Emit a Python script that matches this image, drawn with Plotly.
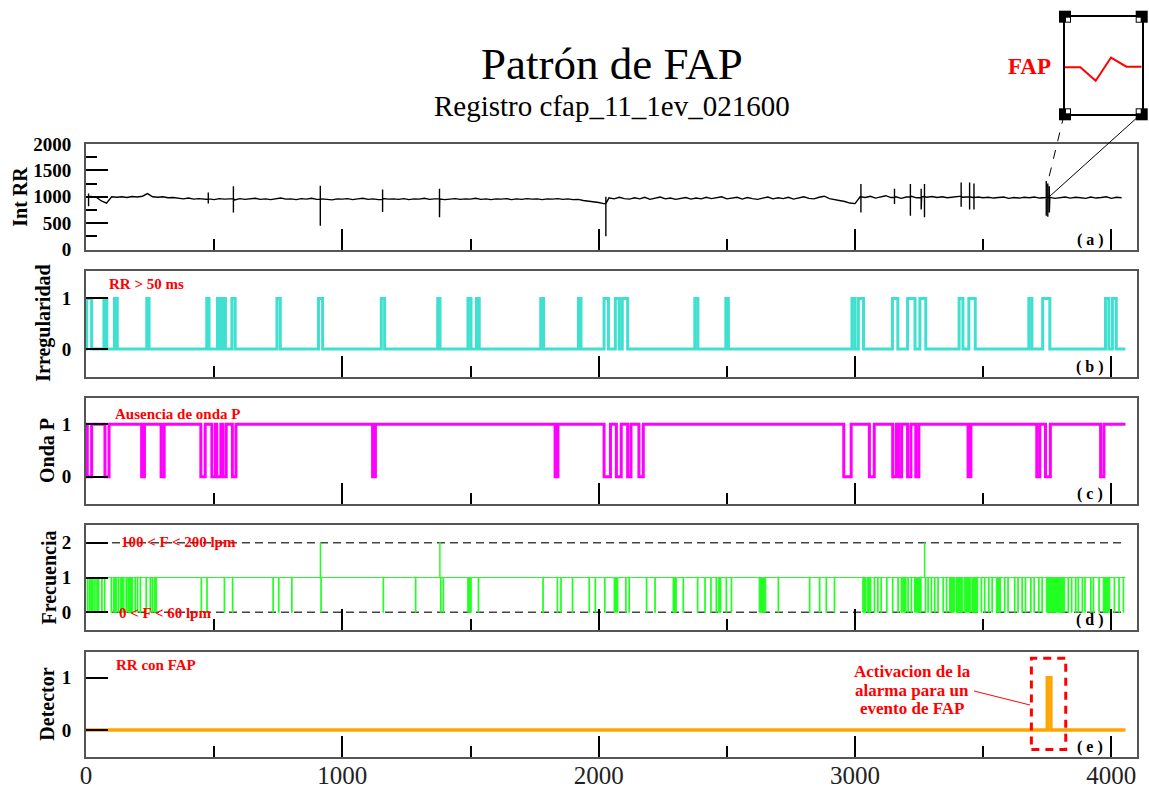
import plotly.graph_objects as go

W, H = 1149, 790
X0, X1 = 86, 1137          # plot area left/right in px
SERIF = "Liberation Serif"

# ---------------- data ----------------
n_beats = 4055
rr_step = 20
rr_base = [1000, 1005, 990, 920, 880, 1000, 990, 1000, 985, 1005,
           995, 1010, 1060, 1000, 990, 1000, 980, 985, 970, 960,
           975, 955, 965, 950, 960, 945, 965, 955, 960, 940,
           965, 950, 960, 970, 950, 960, 945, 965, 975, 955,
           960, 945, 965, 955, 970, 950, 960, 950, 940, 960,
           955, 965, 945, 960, 970, 950, 960, 945, 965, 955,
           960, 950, 965, 945, 960, 955, 970, 950, 960, 955,
           945, 960, 965, 950, 960, 955, 970, 950, 960, 945,
           960, 955, 965, 945, 960, 950, 965, 955, 960, 945,
           960, 955, 965, 950, 960, 945, 950, 930, 920, 900,
           890, 870, 980, 960, 990, 965, 955, 980, 960, 990,
           950, 970, 995, 960, 975, 950, 965, 985, 955, 975,
           960, 990, 965, 980, 1000, 960, 975, 990, 955, 985,
           965, 950, 975, 995, 960, 980, 965, 990, 955, 975,
           1000, 970, 960, 990, 1010, 965, 950, 930, 910, 880,
           870, 1000, 985, 1010, 975, 1000, 1020, 985, 1000, 970,
           995, 1010, 980, 1000, 990, 1005, 985, 1000, 980, 995,
           1010, 990, 1000, 985, 995, 980, 990, 975, 985, 995,
           970, 985, 975, 990, 980, 995, 975, 985, 990, 970,
           985, 995, 975, 990, 980, 970, 995, 975, 985, 1000,
           970, 990, 980]
rr_spike_beat = [10, 477, 575, 914, 1157, 1379, 2028, 3023, 3154, 3216,
                 3258, 3271, 3414, 3447, 3464, 3746, 3752, 3758]
rr_spike_hi = [1060, 1080, 1200, 1210, 1140, 1150, 1000, 1240, 1150, 1240,
               1150, 1240, 1270, 1270, 1250, 1300, 1250, 1200]
rr_spike_lo = [820, 870, 700, 450, 710, 610, 250, 700, 860, 640,
               760, 610, 810, 760, 760, 640, 620, 700]

irr_pulses = [(3, 22), (70, 81), (111, 122), (237, 246), (471, 480), (513, 523),
              (534, 544), (569, 582), (745, 758), (907, 923), (1152, 1165),
              (1372, 1381), (1490, 1502), (1523, 1534), (1774, 1785), (1921, 1931),
              (2021, 2038), (2065, 2080), (2092, 2113), (2375, 2387), (2496, 2506),
              (2988, 3000), (3013, 3033), (3146, 3167), (3205, 3234), (3253, 3276),
              (3406, 3421), (3444, 3469), (3678, 3690), (3732, 3760), (3977, 3990),
              (4004, 4019)]

ondap_drops = [(5, 22), (74, 90), (217, 228), (293, 305), (448, 465), (491, 505),
               (510, 526), (534, 547), (571, 585), (1118, 1129), (1830, 1841),
               (2021, 2046), (2069, 2088), (2113, 2126), (2157, 2174), (2956, 2985),
               (3056, 3075), (3147, 3161), (3170, 3182), (3205, 3218), (3237, 3249),
               (3441, 3452), (3709, 3721), (3743, 3762), (3958, 3971)]

freq_drops = [5, 13, 20, 26, 34, 42, 48, 61, 72, 98, 126, 156, 191, 200, 211, 234,
              250, 258, 449, 471, 539, 571, 729, 751, 802, 916, 1159, 1285, 1383,
              1393, 1530, 1782, 1838, 1852, 1897, 1962, 1986, 2023, 2105, 2118, 2186,
              2219, 2329, 2385, 2414, 2437, 2458, 2497, 2517, 2700, 2822, 2861, 2887,
              2919, 3075, 3088, 3101, 3123, 3146, 3167, 3180, 3206, 3219, 3274, 3284,
              3297, 3310, 3323, 3343, 3356, 3492, 3505, 3521, 3534, 3583, 3596, 3622,
              3635, 3651, 3664, 3685, 3698, 3716, 3729, 3831, 3844, 3860, 3870, 3886,
              3896, 3919, 3929, 3951, 4011, 4029, 4046]
freq_bursts = [(107, 120), (135, 148), (163, 182), (266, 276), (1489, 1503),
               (2060, 2075), (2290, 2303), (2467, 2477), (2626, 2652), (3030, 3043),
               (3049, 3062), (3186, 3199), (3232, 3258), (3369, 3388), (3394, 3420),
               (3426, 3450), (3456, 3479), (3551, 3568), (3746, 3818), (3968, 3994)]
freq_peaks = [914, 1380, 3271]
freq_limits = [0, 2]

det_pulses = [(3750, 3764)]

inset_beat = [3744, 3745, 3746, 3747, 3748, 3749]
inset_rr = [985, 985, 875, 1065, 990, 990]

panel_titles = ["Int RR", "Irregularidad", "Onda P", "Frecuencia", "Detector"]
panel_tags = ["( a )", "( b )", "( c )", "( d )", "( e )"]
x_ticks = [0, 1000, 2000, 3000, 4000]
rr_ticks = [0, 500, 1000, 1500, 2000]

# ---------------- helpers ----------------
def P(px, py):
    return px / W, 1 - py / H

def steps(events, base, end):
    xs, ys = [0], [base]
    for s, e, lvl in sorted(events):
        xs += [s, s, e, e]
        ys += [base, lvl, lvl, base]
    xs.append(end); ys.append(base)
    return xs, ys

# RR series with spikes merged in
spikes = sorted(zip(rr_spike_beat, rr_spike_hi, rr_spike_lo))
rr_x, rr_y = [], []
k = 0
for i, v in enumerate(rr_base):
    x = i * rr_step
    while k < len(spikes) and spikes[k][0] < x:
        b, hi, lo = spikes[k]
        ref = rr_base[i - 1] if i > 0 else v
        rr_x += [b, b, b, b]; rr_y += [ref, hi, lo, ref]
        k += 1
    rr_x.append(x); rr_y.append(v)

fig = go.Figure()

# (a)
fig.add_trace(go.Scatter(x=rr_x, y=rr_y, mode="lines", line=dict(color="black", width=1.4),
                         xaxis="x", yaxis="y"))
# (b)
bx, by = steps([(s, e, 1) for s, e in irr_pulses], 0, n_beats)
fig.add_trace(go.Scatter(x=bx, y=by, mode="lines", line=dict(color="#40E0D0", width=3),
                         xaxis="x2", yaxis="y2"))
# (c)
cx, cy = steps([(s, e, 0) for s, e in ondap_drops], 1, n_beats)
fig.add_trace(go.Scatter(x=cx, y=cy, mode="lines", line=dict(color="#FF00FF", width=3),
                         xaxis="x3", yaxis="y3"))
# (d)
for lv in freq_limits:
    fig.add_trace(go.Scatter(x=[0, n_beats], y=[lv, lv], mode="lines",
                             line=dict(color="#444444", width=1.5, dash="8px,5px"),
                             xaxis="x4", yaxis="y4"))
for s, e in freq_bursts:
    fig.add_trace(go.Scatter(x=[s, s, e, e, s], y=[0, 1, 1, 0, 0], mode="lines", fill="toself",
                             fillcolor="#22FF22", line=dict(color="#22FF22", width=1),
                             xaxis="x4", yaxis="y4"))
ev = [(s, s + 2, 0) for s in freq_drops] + [(p, p + 1, 2) for p in freq_peaks]
dx, dy = steps(ev, 1, n_beats)
fig.add_trace(go.Scatter(x=dx, y=dy, mode="lines", line=dict(color="#22FF22", width=1.2),
                         xaxis="x4", yaxis="y4"))
# (e)
ex, ey = steps([(s, e, 1) for s, e in det_pulses], 0, n_beats)
fig.add_trace(go.Scatter(x=ex, y=ey, mode="lines", line=dict(color="#FFA500", width=3.5),
                         xaxis="x5", yaxis="y5"))
# inset
fig.add_trace(go.Scatter(x=inset_beat, y=inset_rr, mode="lines", line=dict(color="red", width=2),
                         xaxis="x6", yaxis="y6"))

# ---------------- layout ----------------
panels_px = [(144, 249.5), (271, 376.5), (398, 504), (525, 630), (652, 757.3)]
yranges = [[-2, 2002], [-0.54, 1.54], [-0.52, 1.5], [-0.51, 2.51], [-0.52, 1.49]]
yticks = [rr_ticks, [0, 1], [0, 1], [0, 1, 2], [0, 1]]

layout = dict(width=W, height=H, margin=dict(l=0, r=0, t=0, b=0, pad=0, autoexpand=False),
              paper_bgcolor="white", plot_bgcolor="white", showlegend=False)

axline = dict(showline=True, mirror=True, linecolor="#555555", linewidth=2,
              showgrid=False, zeroline=False, ticks="inside", tickcolor="black", tickwidth=1.5,
              automargin=False)

for i in range(5):
    sfx = "" if i == 0 else str(i + 1)
    top, bot = panels_px[i]
    xa = dict(axline, domain=[X0 / W, X1 / W], range=[0, 4100], anchor="y" + sfx,
              tickvals=x_ticks, ticklen=21,
              minor=dict(dtick=500, tick0=0, ticklen=11, ticks="inside",
                         tickcolor="black", tickwidth=1.5),
              showticklabels=(i == 4),
              tickfont=dict(family=SERIF, size=25, color="#222222"),
              ticklabelstandoff=-5)
    ya = dict(axline, domain=[1 - bot / H, 1 - top / H], range=yranges[i], anchor="x" + sfx,
              ticklen=22, tickvals=yticks[i],
              tickfont=dict(family=SERIF, size=19, color="black", weight="bold"),
              ticklabelstandoff=9)
    if i == 0:
        ya.update(minor=dict(dtick=250, tick0=0, ticklen=11, ticks="inside",
                             tickcolor="black", tickwidth=1.5))
    layout["xaxis" + sfx] = xa
    layout["yaxis" + sfx] = ya

# inset axes
ix0, ix1, iy0, iy1 = 1065, 1141.7, 16.7, 114.3
layout["xaxis6"] = dict(domain=[ix0 / W, ix1 / W], range=[3744, 3749], anchor="y6",
                        showline=True, mirror=True, linecolor="black", linewidth=1.5,
                        showticklabels=False, ticks="", showgrid=False, zeroline=False)
layout["yaxis6"] = dict(domain=[1 - iy1 / H, 1 - iy0 / H], range=[600, 1400], anchor="x6",
                        showline=True, mirror=True, linecolor="black", linewidth=1.5,
                        showticklabels=False, ticks="", showgrid=False, zeroline=False)

fig.update_layout(**layout)

ann = []
def text(px, py, s, size, color="black", bold=False, xanchor="center", angle=0):
    x, y = P(px, py)
    ann.append(dict(x=x, y=y, xref="paper", yref="paper", text=s, showarrow=False,
                    xanchor=xanchor, yanchor="middle", textangle=angle,
                    font=dict(family=SERIF, size=size, color=color,
                              weight="bold" if bold else "normal")))

text(612, 64, "Patrón de FAP", 45)
text(612, 106, "Registro cfap_11_1ev_021600", 29)
title_x = [20, 44, 47, 48, 47]
for i, t in enumerate(panel_titles):
    top, bot = panels_px[i]
    text(title_x[i], (top + bot) / 2, t, 20, bold=True, angle=-90)
for i, t in enumerate(panel_tags):
    top, bot = panels_px[i]
    text(1090, bot - 10, t, 16, bold=True)

text(107, 284, "RR &gt; 50 ms", 15, color="red", bold=True, xanchor="left")
text(113, 414, "Ausencia de onda P", 15, color="red", bold=True, xanchor="left")
text(119, 542, "100 &lt; F &lt; 200 lpm", 15, color="red", bold=True, xanchor="left")
text(117, 613, "0 &lt; F &lt; 60 lpm", 15, color="red", bold=True, xanchor="left")
text(114, 665, "RR con FAP", 15, color="red", bold=True, xanchor="left")
text(912, 671, "Activacion de la", 17, color="red", bold=True)
text(912, 690, "alarma para un", 17, color="red", bold=True)
text(912, 708, "evento de FAP", 17, color="red", bold=True)
text(1029, 66, "FAP", 23, color="red", bold=True)
fig.update_layout(annotations=ann)

shapes = []
def pline(x0, y0, x1, y1, color="black", width=1, dash="solid"):
    a, b = P(x0, y0); c, d = P(x1, y1)
    shapes.append(dict(type="line", xref="paper", yref="paper", x0=a, y0=b, x1=c, y1=d,
                       line=dict(color=color, width=width, dash=dash)))
def prect(x0, y0, x1, y1, fill):
    a, b = P(x0, y0); c, d = P(x1, y1)
    shapes.append(dict(type="rect", xref="paper", yref="paper", x0=a, y0=b, x1=c, y1=d,
                       fillcolor=fill, line=dict(width=0)))

# inset corner handles
for cx_, cy_, sx, sy in [(ix0, iy0, 1, 1), (ix1, iy0, -1, 1), (ix0, iy1, 1, -1), (ix1, iy1, -1, -1)]:
    prect(cx_ - 6, cy_ - 6, cx_ + 6, cy_ + 6, "black")
    prect(cx_ + sx * 1, cy_ + sy * 1, cx_ + sx * 5, cy_ + sy * 5, "white")
# connector lines to the RR event
pline(1064, 115, 1046.7, 186.7, dash="dash")
pline(1140, 115, 1049.3, 196.7)
# alarm pointer and dashed box
pline(974, 691, 1030, 705, color="red", width=1)
a0, a1 = det_pulses[0]
shapes.append(dict(type="rect", xref="x5", yref="y5", x0=a0 - 62, x1=a1 + 58, y0=-0.37, y1=1.37,
                   line=dict(color="red", width=3, dash="8px,6px"), fillcolor="rgba(0,0,0,0)"))
fig.update_layout(shapes=shapes)

fig.write_html("out.html")
